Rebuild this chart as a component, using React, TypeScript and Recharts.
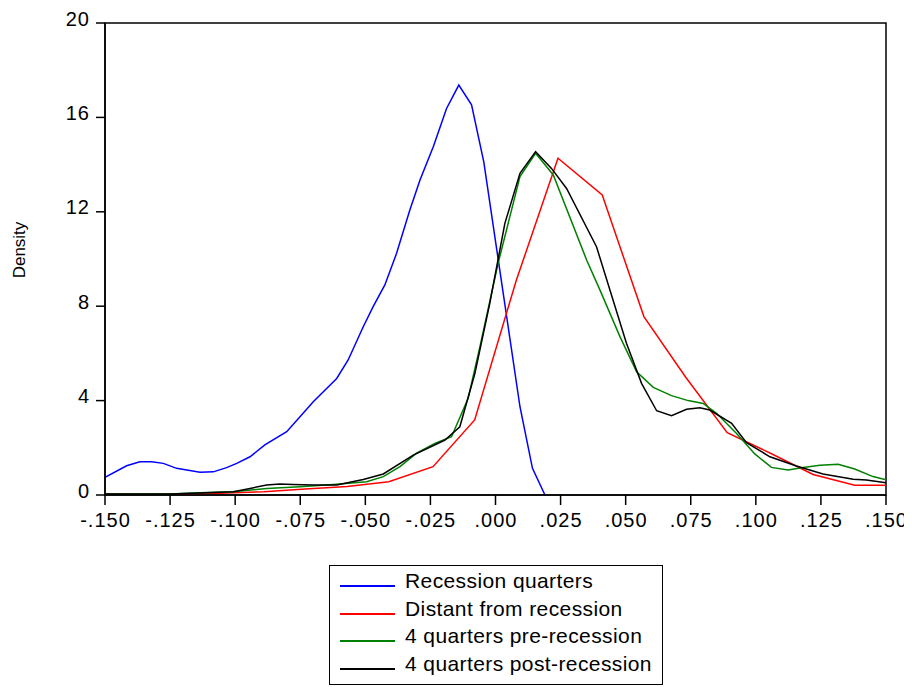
import { LineChart, Line, XAxis, YAxis, ReferenceArea } from "recharts";

const FONT = '"Liberation Sans", Arial, sans-serif';

const xTicks = [-0.15, -0.125, -0.1, -0.075, -0.05, -0.025, 0, 0.025, 0.05, 0.075, 0.1, 0.125, 0.15];
const yTicks = [0, 4, 8, 12, 16, 20];

// Recession quarters
const recessionX = [
  -0.15, -0.1417, -0.1366, -0.1321, -0.1276, -0.1225, -0.1135, -0.1084, -0.1033, -0.0994, -0.0943,
  -0.0886, -0.0802, -0.0751, -0.07, -0.061, -0.0566, -0.0508, -0.047, -0.0425, -0.038, -0.0329,
  -0.029, -0.0239, -0.0188, -0.0141, -0.0092, -0.0045, 0.0094, 0.0142, 0.019,
];
const recessionY = [
  0.75, 1.24, 1.41, 1.41, 1.34, 1.13, 0.96, 0.98, 1.16, 1.34, 1.62, 2.12, 2.68, 3.32, 3.95, 4.94, 5.72,
  7.13, 7.98, 8.9, 10.24, 12.08, 13.35, 14.76, 16.38, 17.37, 16.53, 14.12, 3.74, 1.13, 0,
];

// Distant from recession
const distantX = [
  -0.154, -0.138, -0.122, -0.106, -0.089, -0.073, -0.057, -0.041, -0.024, -0.008, 0.008, 0.024, 0.041,
  0.057, 0.073, 0.089, 0.106, 0.122, 0.138, 0.154,
];
const distantY = [
  0.05, 0.02, 0.03, 0.07, 0.14, 0.25, 0.36, 0.56, 1.2, 3.18, 9.1, 14.27, 12.71, 7.56, 5.0, 2.64, 1.75,
  0.87, 0.41, 0.41,
];

// 4 quarters pre-recession
const preX = [
  -0.15, -0.125, -0.1135, -0.1008, -0.0879, -0.0751, -0.0623, -0.0495, -0.0431, -0.0367, -0.0303,
  -0.0233, -0.0169, -0.0105, -0.006, 0.001, 0.0094, 0.0154, 0.0222, 0.035, 0.0401, 0.0478, 0.0542,
  0.0606, 0.0676, 0.074, 0.0798, 0.0849, 0.0926, 0.0996, 0.106, 0.1124, 0.1182, 0.1246, 0.1316, 0.138,
  0.145, 0.15,
];
const preY = [
  0.04, 0.04, 0.1, 0.14, 0.28, 0.35, 0.45, 0.56, 0.78, 1.2, 1.77, 2.19, 2.47, 4.1, 6.28, 9.82, 13.49,
  14.48, 13.56, 9.96, 8.69, 6.71, 5.22, 4.56, 4.21, 4.0, 3.88, 3.46, 2.61, 1.74, 1.17, 1.06, 1.17, 1.26,
  1.3, 1.1, 0.78, 0.64,
];

// 4 quarters post-recession
const postX = [
  -0.15, -0.125, -0.1007, -0.0943, -0.0879, -0.0828, -0.0777, -0.07, -0.061, -0.0508, -0.0431, -0.0316,
  -0.0194, -0.0137, -0.0079, -0.0022, 0.0036, 0.0094, 0.0154, 0.0215, 0.0273, 0.0388, 0.0503, 0.0561,
  0.0619, 0.0676, 0.0734, 0.0785, 0.0823, 0.0907, 0.0964, 0.1054, 0.1156, 0.1258, 0.1374, 0.1425, 0.15,
];
const postY = [
  0.04, 0.04, 0.14, 0.28, 0.42, 0.47, 0.45, 0.42, 0.42, 0.66, 0.89, 1.69, 2.33, 2.89, 5.16, 8.12, 11.51,
  13.63, 14.55, 13.84, 12.99, 10.52, 6.43, 4.73, 3.57, 3.36, 3.63, 3.7, 3.6, 3.04, 2.22, 1.62, 1.23,
  0.89, 0.67, 0.64, 0.52,
];

const zip = (xs: number[], ys: number[]) => xs.map((x, i) => ({ x, y: ys[i] }));

const SERIES = [
  { name: "Recession quarters", color: "#0000ff", data: zip(recessionX, recessionY) },
  { name: "Distant from recession", color: "#ff0000", data: zip(distantX, distantY) },
  { name: "4 quarters pre-recession", color: "#008000", data: zip(preX, preY) },
  { name: "4 quarters post-recession", color: "#000000", data: zip(postX, postY) },
];

// EViews-style labels: ".025", "-.150"
function fmtX(v: number) {
  const s = Math.abs(v).toFixed(3).replace(/^0/, "");
  return v < -1e-9 ? "-" + s : s;
}

function XTick(props: any) {
  const { x, y, payload } = props;
  return (
    <text x={x + 0.5} y={y} dy={20} textAnchor="middle" fontFamily={FONT} fontSize={20} letterSpacing={1} fill="#000">
      {fmtX(payload.value)}
    </text>
  );
}

function YTick(props: any) {
  const { x, y, payload } = props;
  return (
    <text x={x + 1} y={y} dy={2.5} textAnchor="end" fontFamily={FONT} fontSize={20} letterSpacing={1} fill="#000">
      {payload.value}
    </text>
  );
}

export default function App() {
  return (
    <div style={{ position: "relative", width: 904, height: 679, fontFamily: FONT }}>
      <style>{"html,body{overflow:hidden}"}</style>
      <LineChart width={904} height={679} margin={{ top: 15, right: 26, bottom: 152, left: 0 }}>
        <XAxis
          type="number"
          dataKey="x"
          domain={[-0.15, 0.15]}
          ticks={xTicks}
          interval={0}
          allowDataOverflow
          height={40}
          tickSize={10}
          stroke="#000"
          strokeWidth={1.5}
          tick={XTick}
        />
        <YAxis
          type="number"
          domain={[0, 20]}
          ticks={yTicks}
          interval={0}
          allowDataOverflow
          width={97}
          tickSize={9}
          tickMargin={7}
          stroke="#000"
          strokeWidth={1.5}
          tick={YTick}
        />
        <ReferenceArea x1={-0.15} x2={0.15} y1={0} y2={20} fill="none" stroke="#000" strokeWidth={1.5} />
        {SERIES.map((s) => (
          <Line
            key={s.name}
            data={s.data}
            dataKey="y"
            name={s.name}
            type="linear"
            stroke={s.color}
            strokeWidth={1.5}
            dot={false}
            isAnimationActive={false}
          />
        ))}
      </LineChart>

      <div
        style={{
          position: "absolute",
          left: 12,
          top: 242,
          transform: "translate(-50%, -50%) rotate(-90deg)",
          fontSize: 17,
          whiteSpace: "nowrap",
        }}
      >
        Density
      </div>

      <div
        style={{
          position: "absolute",
          left: 321,
          top: 557,
          width: 334,
          height: 120,
          boxSizing: "border-box",
          border: "1.5px solid #000",
        }}
      >
        {SERIES.map((s, i) => (
          <div key={s.name} style={{ position: "absolute", left: 0, top: 20 + i * 27.6, width: "100%" }}>
            <div style={{ position: "absolute", left: 10, top: -1, width: 55, height: 2, background: s.color }} />
            <div
              style={{
                position: "absolute",
                left: 75,
                top: -18,
                fontSize: 21,
                letterSpacing: 0.4,
                lineHeight: "26px",
                whiteSpace: "nowrap",
              }}
            >
              {s.name}
            </div>
          </div>
        ))}
      </div>
    </div>
  );
}
